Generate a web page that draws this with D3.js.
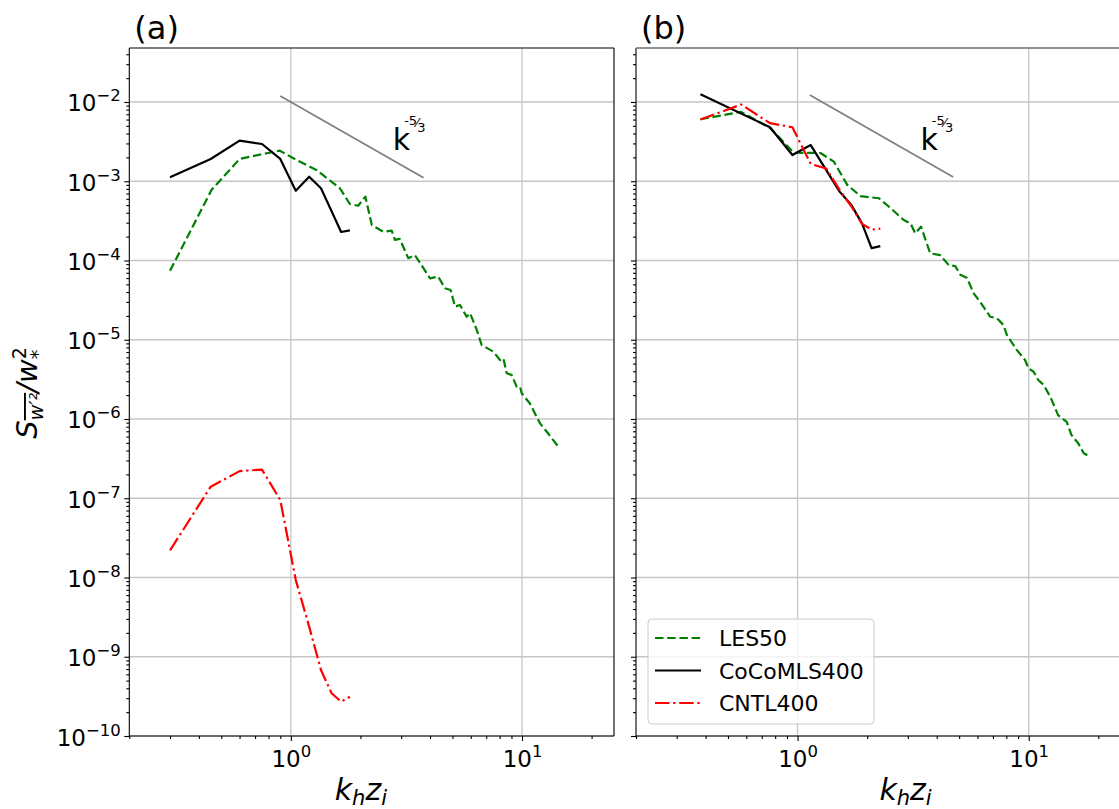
<!DOCTYPE html>
<html>
<head>
<meta charset="utf-8">
<script src="https://cdn.jsdelivr.net/npm/d3@7"></script>
<style>
  body { margin: 0; background: #ffffff; }
  svg { display: block; }
  text { font-family: "DejaVu Sans", sans-serif; fill: #000; }
</style>
</head>
<body>
<svg id="fig" width="1119" height="809"></svg>
<script>
// ---- spectra, panel (a) ----
const kA_les = [0.30, 0.454, 0.60, 0.759, 0.896, 1.059, 1.29, 1.63, 1.80, 1.955, 2.10, 2.24, 2.51, 2.73, 2.82, 2.96,
  3.22, 3.44, 4.0, 4.34, 4.64, 4.91, 5.13, 5.39, 5.76, 5.96, 6.37, 6.69, 7.52, 8.03, 8.30, 8.59, 9.02, 9.48, 9.80,
  9.97, 10.8, 11.97, 12.8, 13.45, 14.3];
const sA_les = [7.4e-5, 7.8e-4, 1.91e-3, 2.21e-3, 2.43e-3, 1.85e-3, 1.39e-3, 8.15e-4, 5.16e-4, 4.9e-4, 6.4e-4, 2.8e-4,
  2.31e-4, 2.38e-4, 1.82e-4, 1.87e-4, 1.07e-4, 1.17e-4, 5.96e-5, 6.25e-5, 4.46e-5, 4.25e-5, 2.61e-5, 2.75e-5, 1.95e-5,
  2.16e-5, 1.33e-5, 8.6e-6, 7.06e-6, 5.55e-6, 5.83e-6, 3.77e-6, 3.59e-6, 2.56e-6, 2.56e-6, 2.11e-6, 1.58e-6, 8.8e-7,
  6.9e-7, 5.7e-7, 4.56e-7];
const kA_cocomls = [0.30, 0.45, 0.60, 0.75, 0.90, 1.05, 1.20, 1.35, 1.65, 1.80];
const sA_cocomls = [1.12e-3, 1.91e-3, 3.25e-3, 2.95e-3, 1.91e-3, 7.6e-4, 1.14e-3, 8.15e-4, 2.29e-4, 2.40e-4];
const kA_cntl = [0.30, 0.45, 0.60, 0.75, 0.90, 1.05, 1.20, 1.35, 1.50, 1.65, 1.80];
const sA_cntl = [2.2e-8, 1.4e-7, 2.2e-7, 2.3e-7, 9.5e-8, 9.3e-9, 2.4e-9, 6.8e-10, 3.46e-10, 2.71e-10, 3.13e-10];

// ---- spectra, panel (b) ----
const kB_les = [0.38, 0.57, 0.76, 0.964, 1.256, 1.435, 1.64, 1.87, 2.25, 2.48, 2.88, 3.08, 3.23, 3.42, 3.75, 4.14,
  4.50, 4.81, 5.06, 5.41, 5.78, 6.17, 6.82, 7.29, 7.78, 8.04, 8.89, 9.64, 9.97, 10.5, 11.0, 11.6, 12.4, 13.4, 14.6,
  15.3, 16.4, 17.3, 18.2];
const sB_les = [6.05e-3, 7.5e-3, 4.7e-3, 2.29e-3, 2.27e-3, 1.77e-3, 9.0e-4, 6.5e-4, 6.1e-4, 4.8e-4, 3.24e-4, 2.94e-4,
  2.2e-4, 2.67e-4, 1.23e-4, 1.17e-4, 8.8e-5, 8.5e-5, 6.6e-5, 6.0e-5, 3.85e-5, 3.0e-5, 1.95e-5, 1.87e-5, 1.53e-5,
  1.15e-5, 7.4e-6, 5.55e-6, 4.37e-6, 3.95e-6, 3.1e-6, 2.69e-6, 1.91e-6, 1.12e-6, 9.2e-7, 6.3e-7, 4.9e-7, 3.7e-7, 3.4e-7];
const kB_cocomls = [0.38, 0.76, 0.95, 1.14, 1.52, 1.71, 1.90, 2.09, 2.28];
const sB_cocomls = [1.25e-2, 4.8e-3, 2.14e-3, 2.86e-3, 7.4e-4, 5.0e-4, 2.94e-4, 1.43e-4, 1.52e-4];
const kB_cntl = [0.38, 0.57, 0.76, 0.95, 1.14, 1.33, 1.52, 1.71, 1.90, 2.09, 2.28];
const sB_cntl = [6.0e-3, 9.3e-3, 5.4e-3, 4.8e-3, 1.65e-3, 1.45e-3, 7.8e-4, 4.8e-4, 2.9e-4, 2.45e-4, 2.52e-4];

// ---- -5/3 reference slopes: k range and prefactor per panel ----
const refK = [[0.9, 3.75], [1.13, 4.71]];
const refC = [0.01, 0.015];
const refLabelAt = [[2.76, 2.48e-3], [3.4, 2.48e-3]];

// ---- axes ----
const xDomain = [0.2, 25];
const yDomain = [1e-10, 0.048];
const xMajorTicks = [1, 10];
const yMajorTicks = [1e-10, 1e-9, 1e-8, 1e-7, 1e-6, 1e-5, 1e-4, 1e-3, 1e-2];
const seriesNames = ["LES50", "CoCoMLS400", "CNTL400"];
const panelTitles = ["(a)", "(b)"];

const styles = {
  LES50:      { color: "#008000", dash: "8.5,3.7" },
  CoCoMLS400: { color: "#000000", dash: null },
  CNTL400:    { color: "#ff0000", dash: "14.5,3.7,2.3,3.7" }
};

const panelData = [
  { LES50: [kA_les, sA_les], CoCoMLS400: [kA_cocomls, sA_cocomls], CNTL400: [kA_cntl, sA_cntl] },
  { LES50: [kB_les, sB_les], CoCoMLS400: [kB_cocomls, sB_cocomls], CNTL400: [kB_cntl, sB_cntl] }
];

const svg = d3.select("#fig");
svg.append("rect").attr("width", 1119).attr("height", 809).attr("fill", "#fff");

const axTop = 48, axBottom = 736, panelW = 484.7;
const panelLeft = [129.3, 636];
const xLabelShift = [70, 108];

function minorTicks(lo, hi) {
  const out = [];
  for (let e = Math.floor(Math.log10(lo)); e <= Math.ceil(Math.log10(hi)); e++) {
    for (let m = 2; m <= 9; m++) {
      const v = m * Math.pow(10, e);
      if (v >= lo && v <= hi) out.push(v);
    }
  }
  return out;
}

function powerLabel(textSel, v) {
  const e = Math.round(Math.log10(v));
  textSel.text(null);
  textSel.append("tspan").text("10");
  textSel.append("tspan").attr("font-size", 16.5).attr("dy", -10)
    .text(e < 0 ? "\u2212" + (-e) : String(e));
}

const defs = svg.append("defs");

panelLeft.forEach((x0, pi) => {
  const x = d3.scaleLog().domain(xDomain).range([x0, x0 + panelW]);
  const y = d3.scaleLog().domain(yDomain).range([axBottom, axTop]);
  const g = svg.append("g");

  // grid at decades
  g.append("g").selectAll("line").data(xMajorTicks).join("line")
    .attr("x1", d => x(d)).attr("x2", d => x(d)).attr("y1", axTop).attr("y2", axBottom)
    .attr("stroke", "#c6c6c6").attr("stroke-width", 1.3);
  g.append("g").selectAll("line").data(yMajorTicks).join("line")
    .attr("x1", x0).attr("x2", x0 + panelW).attr("y1", d => y(d)).attr("y2", d => y(d))
    .attr("stroke", "#c6c6c6").attr("stroke-width", 1.3);

  // minor ticks
  const xMin = g.append("g").attr("transform", `translate(0,${axBottom})`)
    .call(d3.axisBottom(x).tickValues(minorTicks(xDomain[0], xDomain[1])).tickSize(3).tickFormat(() => ""));
  const yMin = g.append("g").attr("transform", `translate(${x0},0)`)
    .call(d3.axisLeft(y).tickValues(minorTicks(yDomain[0], yDomain[1])).tickSize(3).tickFormat(() => ""));
  // major ticks
  const xMaj = g.append("g").attr("transform", `translate(0,${axBottom})`)
    .call(d3.axisBottom(x).tickValues(xMajorTicks).tickSize(5).tickFormat(() => ""));
  const yMaj = g.append("g").attr("transform", `translate(${x0},0)`)
    .call(d3.axisLeft(y).tickValues(yMajorTicks).tickSize(5).tickFormat(() => ""));
  [xMin, yMin, xMaj, yMaj].forEach(a => {
    a.select(".domain").remove();
    a.selectAll(".tick line").attr("stroke", "#000").attr("stroke-width", 1.1);
    a.attr("font-family", null).attr("font-size", null);
  });
  xMaj.selectAll(".tick text")
    .attr("y", 31).attr("dy", null).attr("font-size", 23).attr("text-anchor", "middle").attr("fill", "#000")
    .each(function (d) { powerLabel(d3.select(this), d); });
  if (pi === 0) {
    yMaj.selectAll(".tick text")
      .attr("x", -8.5).attr("y", 9).attr("dy", null).attr("font-size", 23).attr("text-anchor", "end").attr("fill", "#000")
      .each(function (d) { powerLabel(d3.select(this), d); });
  } else {
    yMaj.selectAll(".tick text").remove();
  }

  // data lines
  const clipId = "clip" + pi;
  defs.append("clipPath").attr("id", clipId).append("rect")
    .attr("x", x0).attr("y", axTop).attr("width", panelW).attr("height", axBottom - axTop);
  const plot = g.append("g").attr("clip-path", `url(#${clipId})`);

  // -5/3 slope line
  const kr = refK[pi];
  const refPts = kr.map(k => [k, refC[pi] * Math.pow(k, -5 / 3)]);
  plot.append("path")
    .attr("d", d3.line().x(d => x(d[0])).y(d => y(d[1]))(refPts))
    .attr("fill", "none").attr("stroke", "#808080").attr("stroke-width", 1.8);

  const line = d3.line().x(d => x(d[0])).y(d => y(d[1]));
  seriesNames.forEach(name => {
    const [ks, ss] = panelData[pi][name];
    const pts = ks.map((k, i) => [k, ss[i]]);
    const p = plot.append("path").attr("d", line(pts))
      .attr("fill", "none").attr("stroke", styles[name].color).attr("stroke-width", 2.2)
      .attr("stroke-linejoin", "round");
    if (styles[name].dash) p.attr("stroke-dasharray", styles[name].dash);
  });

  // slope label k^(-5/3)
  const [lk, ls] = refLabelAt[pi];
  const lt = g.append("text").attr("x", x(lk)).attr("y", y(ls)).attr("font-size", 30);
  lt.append("tspan").text("k");
  lt.append("tspan").attr("font-size", 13).attr("dx", -6).attr("dy", -25).text("-5");
  lt.append("tspan").attr("font-size", 13).attr("dx", -1).attr("dy", 2).text("\u2044");
  lt.append("tspan").attr("font-size", 13).attr("dx", -1).attr("dy", 5).text("3");

  // frame
  const fr = g.append("g").attr("stroke", "#000").attr("stroke-width", 1.1).attr("fill", "none");
  fr.append("line").attr("x1", x0).attr("x2", x0).attr("y1", axTop).attr("y2", axBottom);
  fr.append("line").attr("x1", x0).attr("x2", x0 + panelW).attr("y1", axBottom).attr("y2", axBottom);
  fr.append("line").attr("x1", x0).attr("x2", x0 + panelW).attr("y1", axTop).attr("y2", axTop)
    .attr("stroke", pi === 1 ? "#6e6e6e" : "#000").attr("stroke-width", pi === 1 ? 1.6 : 1.1);
  fr.append("line").attr("x1", x0 + panelW).attr("x2", x0 + panelW).attr("y1", axTop).attr("y2", axBottom);

  // panel title
  g.append("text").attr("x", x0 + 5).attr("y", 39).attr("font-size", 32).text(panelTitles[pi]);

  // x label k_h z_i
  const xl = g.append("text").attr("x", x(1) + xLabelShift[pi]).attr("y", 800).attr("text-anchor", "middle")
    .attr("font-size", 30).attr("font-style", "italic");
  xl.append("tspan").text("k");
  xl.append("tspan").attr("font-size", 21).attr("dy", 5).text("h");
  xl.append("tspan").attr("dy", -5).text("z");
  xl.append("tspan").attr("font-size", 21).attr("dy", 5).text("i");

  // legend in panel (b)
  if (pi === 1) {
    const lg = g.append("g").attr("transform", `translate(${x0 + 12},619)`);
    lg.append("rect").attr("width", 226).attr("height", 105).attr("rx", 4)
      .attr("fill", "#fff").attr("fill-opacity", 0.8).attr("stroke", "#cccccc").attr("stroke-width", 1);
    seriesNames.forEach((name, i) => {
      const yy = 19 + i * 32.5;
      const l = lg.append("line").attr("x1", 7).attr("x2", 53).attr("y1", yy).attr("y2", yy)
        .attr("stroke", styles[name].color).attr("stroke-width", 2.2);
      if (styles[name].dash) l.attr("stroke-dasharray", styles[name].dash);
      lg.append("text").attr("x", 71).attr("y", yy + 8).attr("font-size", 22).text(name);
    });
  }
});

// y label: S_{overline{w'^2}} / w_*^2
const yl = svg.append("text").attr("transform", "translate(37,393) rotate(-90)")
  .attr("text-anchor", "middle").attr("font-size", 29).attr("font-style", "italic");
yl.append("tspan").text("S");
yl.append("tspan").attr("font-size", 19).attr("dy", 6).attr("text-decoration", "overline").text("w\u2032\u00b2");
yl.append("tspan").attr("dy", -6).text("/w");
yl.append("tspan").attr("font-size", 19).attr("font-style", "normal").attr("dy", -11).text("2");
yl.append("tspan").attr("font-size", 19).attr("font-style", "normal").attr("dx", -12).attr("dy", 18).text("*");
</script>
</body>
</html>
